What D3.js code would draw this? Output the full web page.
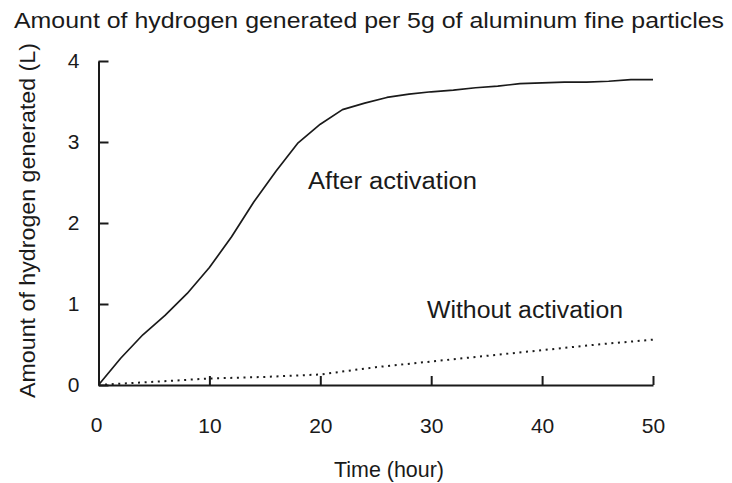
<!DOCTYPE html>
<html>
<head>
<meta charset="utf-8">
<script src="https://cdn.jsdelivr.net/npm/d3@7"></script>
<style>
  html, body { margin: 0; padding: 0; background: #fff; }
  svg { display: block; font-family: "Liberation Sans", Arial, sans-serif; }
</style>
</head>
<body>
<svg id="chart" width="732" height="483"></svg>
<script>
// ---- data ----
const timeAfter = [0, 2, 4, 6, 8, 10, 12, 14, 16, 18, 20, 22, 24, 26, 28, 30, 32, 34, 36, 38, 40, 42, 44, 46, 48, 50];
const valuesAfter = [0, 0.33, 0.62, 0.86, 1.13, 1.45, 1.83, 2.26, 2.64, 2.99, 3.22, 3.40, 3.48, 3.55, 3.59, 3.62, 3.64, 3.67, 3.69, 3.72, 3.73, 3.74, 3.74, 3.75, 3.77, 3.77];
const timeWithout = [0, 5, 10, 15, 20, 25, 30, 35, 40, 45, 50];
const valuesWithout = [0, 0.04, 0.08, 0.10, 0.13, 0.22, 0.29, 0.36, 0.43, 0.50, 0.56];
const xTicks = [0, 10, 20, 30, 40, 50];
const yTicks = [0, 1, 2, 3, 4];
const titleText = "Amount of hydrogen generated per 5g of aluminum fine particles";
const xLabel = "Time (hour)";
const yLabel = "Amount of hydrogen generated (L)";
const seriesLabels = ["After activation", "Without activation"];

// ---- layout ----
const svg = d3.select("#chart");
const ink = "#1a1a1a";
const x = d3.scaleLinear().domain([0, 50]).range([98.5, 653]);
const y = d3.scaleLinear().domain([0, 4]).range([385, 61]);

// title
svg.append("text")
  .attr("x", 14).attr("y", 28)
  .attr("textLength", 710).attr("lengthAdjust", "spacingAndGlyphs")
  .attr("font-size", 22.5).attr("fill", ink)
  .text(titleText);

// axes
const yAxis = d3.axisLeft(y).tickValues(yTicks).tickSize(-10).tickSizeOuter(0).tickPadding(19)
  .tickFormat(d3.format("d"));
const xAxis = d3.axisBottom(x).tickValues(xTicks.filter(d => d !== 0)).tickSize(-9).tickSizeOuter(0).tickPadding(33)
  .tickFormat(d3.format("d"));

const gx = svg.append("g").attr("transform", `translate(0,${y(0)})`).call(xAxis);
const gy = svg.append("g").attr("transform", `translate(${x(0)},0)`).call(yAxis);

[gx, gy].forEach(g => {
  g.select(".domain").attr("stroke", ink).attr("stroke-width", 2);
  g.selectAll(".tick line").attr("stroke", ink).attr("stroke-width", 2);
  g.selectAll(".tick text").attr("fill", ink).attr("font-size", 21)
    .attr("font-family", "'Liberation Sans', Arial, sans-serif");
});
// the "0" label of the x axis (no tick mark drawn there)
svg.append("text")
  .attr("x", x(0) - 2).attr("y", y(0) + 47)
  .attr("text-anchor", "middle").attr("font-size", 21).attr("fill", ink)
  .text(d3.format("d")(xTicks[0]));

// axis titles
svg.append("text")
  .attr("x", 334).attr("y", 477)
  .attr("textLength", 110).attr("lengthAdjust", "spacingAndGlyphs")
  .attr("font-size", 22).attr("fill", ink)
  .text(xLabel);

svg.append("text")
  .attr("transform", "translate(35,398) rotate(-90)")
  .attr("textLength", 355).attr("lengthAdjust", "spacingAndGlyphs")
  .attr("font-size", 22).attr("fill", ink)
  .text(yLabel);

// lines
const line = d3.line().x(d => x(d[0])).y(d => y(d[1]));
svg.append("path")
  .datum(timeAfter.map((t, i) => [t, valuesAfter[i]]))
  .attr("d", line).attr("fill", "none")
  .attr("stroke", ink).attr("stroke-width", 1.7).attr("stroke-linejoin", "round");

svg.append("path")
  .datum(timeWithout.map((t, i) => [t, valuesWithout[i]]))
  .attr("d", line).attr("fill", "none")
  .attr("stroke", ink).attr("stroke-width", 2).attr("stroke-dasharray", "2,4.6");

// annotations
svg.append("text")
  .attr("x", 308).attr("y", 189)
  .attr("textLength", 169).attr("lengthAdjust", "spacingAndGlyphs")
  .attr("font-size", 23).attr("fill", ink)
  .text(seriesLabels[0]);
svg.append("text")
  .attr("x", 427).attr("y", 318)
  .attr("textLength", 196).attr("lengthAdjust", "spacingAndGlyphs")
  .attr("font-size", 23).attr("fill", ink)
  .text(seriesLabels[1]);
</script>
</body>
</html>
